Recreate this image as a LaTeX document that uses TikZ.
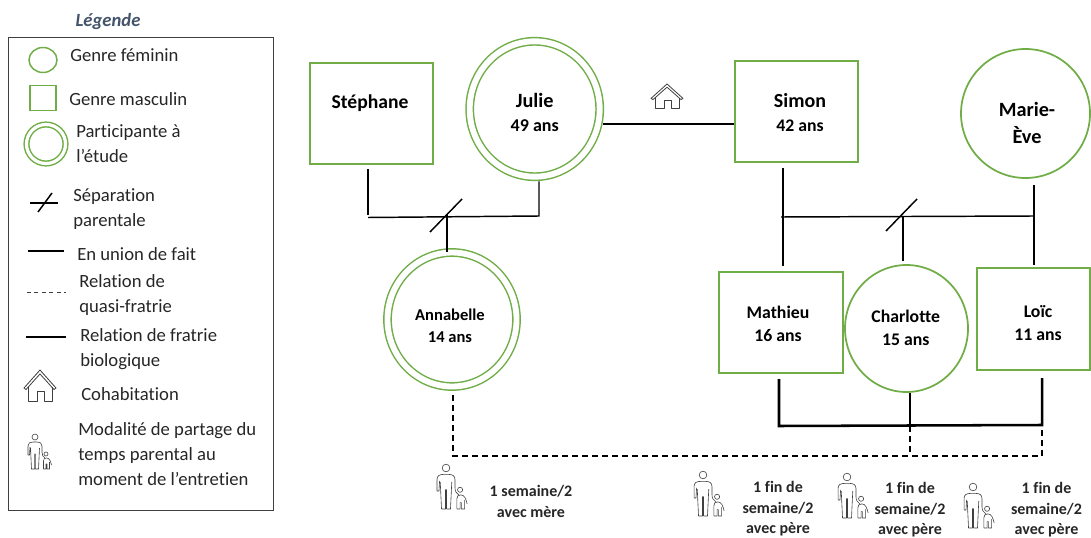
\documentclass[tikz,border=0pt]{standalone}
\usepackage{fontspec}
\setmainfont{Carlito}[Ligatures=CommonOff]
\usetikzlibrary{calc,shapes.geometric}
\definecolor{grn}{HTML}{70AD47}
\definecolor{legblue}{HTML}{44546A}
\definecolor{txt}{HTML}{262626}
\definecolor{icon}{HTML}{404040}
% #1 x shift (px), #2 y shift down (px), #3 baseline skip (pt), #4 lines
\newcommand\plab[4]{\fontsize{12}{#3}\selectfont\makebox[0pt]{\hspace*{\dimexpr#1pt*3/2\relax}\raisebox{\dimexpr-#2pt*3/4-4.5pt\relax}[0pt][0pt]{\begin{tabular}{@{}c@{}}#4\end{tabular}}}}
\newcommand\fnt[1]{\fontsize{#1}{18}\selectfont}
\tikzset{
  x=0.75pt,y=-0.75pt,
  gbox/.style={draw=grn,fill=white,inner sep=0pt,align=center,font=\bfseries,text=black},
  grect/.style={gbox,line width=1.5pt,rectangle,minimum width=#1*0.75pt},
  gell/.style={gbox,line width=1.3pt,ellipse,minimum width=#1*1.5pt},
  gdbl/.style={gbox,line width=1.1pt,ellipse,double=white,double distance=4.4pt,minimum width=#1*1.5pt},
  lk/.style={draw=black,line width=1.1pt},
  thk/.style={draw=black,line width=1.9pt},
  dsh/.style={draw=black,line width=1.1pt,dash pattern=on 4.5pt off 3pt},
  leg/.style={anchor=west,align=left,inner sep=0pt,text=txt,font=\fontsize{14}{18.7}\selectfont},
  captxt/.style={align=center,inner sep=0pt,text=txt,font=\bfseries\fontsize{12}{15.4}\selectfont},
  house/.pic={
    \draw[icon,line width=.6pt,line join=round] (-16,18) -- (0,0) -- (16,18) -- (14,19.5) -- (0,4) -- (-14,19.5) -- cycle;
    \draw[icon,line width=.6pt,line join=round] (-12,17) -- (-12,31) -- (-3,31) -- (-3,21) -- (4,21) -- (4,31) -- (12,31) -- (12,17);
  },
  person/.pic={
    \draw[icon,line width=.45pt,line join=round] (0,0) circle (3);
    \draw[icon,line width=.45pt,line join=round]
      (-7,18) -- (-7,9) .. controls (-7,6) and (-5,5) .. (-2,5) -- (2,5) .. controls (5,5) and (7,6) .. (7,9) -- (7,15) .. controls (7,18) and (8,20) .. (10,21);
    \draw[icon,line width=.45pt,line join=round]
      (-7,18) -- (-5.5,18) -- (-5,10)
      (-4.5,11) -- (-3.5,32) -- (-.4,32) -- (-.4,17) -- (.4,17) -- (.4,32) -- (3.5,32) -- (4.5,11);
    \draw[icon,line width=.45pt] (11,17) circle (2);
    \draw[icon,line width=.45pt,line join=round]
      (8.5,32) -- (8.5,24) .. controls (8.5,22) and (9.5,21) .. (11.5,21) .. controls (14.5,21) and (15.5,24) .. (16.5,28)
      (8.5,32) -- (11,32) -- (11,27) -- (12,27) -- (12,32) -- (14.5,32) -- (14.5,25);
  }
}
\begin{document}
\begin{tikzpicture}
\useasboundingbox (0,0) rectangle (1091,538);
% legend
\node[anchor=center,inner sep=0pt,text=legblue,font=\bfseries\itshape\fontsize{14}{16}\selectfont] (legt) at (108,21.5) {Légende};
\node[draw=icon,line width=.75pt,minimum width=265*0.75pt,minimum height=473*0.75pt,inner sep=0pt,anchor=north west] (legbox) at (8,37) {};
\node[draw=grn,line width=1.1pt,ellipse,minimum width=28*0.75pt,minimum height=25*0.75pt,inner sep=0pt] (lf) at (43,60) {};
\node[draw=grn,line width=1.1pt,rectangle,minimum width=26*0.75pt,minimum height=25*0.75pt,inner sep=0pt] (lm) at (43,98) {};
\node[draw=grn,line width=1.1pt,circle,double=white,double distance=2.4pt,minimum size=39*0.75pt,inner sep=0pt] (lp) at (46,144) {};
\node[leg] (t1) at (70,55) {Genre féminin};
\node[leg] (t2) at (69,99) {Genre masculin};
\node[leg] (t3) at (76,144) {Participante à\\l’étude};
\node[leg] (t4) at (73,209) {Séparation\\parentale};
\node[leg] (t5) at (77,254) {En union de fait};
\node[leg] (t6) at (79,295) {Relation de\\quasi-fratrie};
\node[leg] (t7) at (80,349) {Relation de fratrie\\biologique};
\node[leg] (t8) at (81,394) {Cohabitation};
\node[leg] (t9) at (78,454.5) {Modalité de partage du\\temps parental au\\moment de l’entretien};
\coordinate (a1) at (30,203); \coordinate (a2) at (58,203);
\coordinate (b1) at (38,212); \coordinate (b2) at (52,193);
\draw[lk] (a1) -- (a2); \draw[lk] (b1) -- (b2);
\coordinate (c1) at (28,251); \coordinate (c2) at (64,251);
\draw[lk] (c1) -- (c2);
\coordinate (d1) at (27,292); \coordinate (d2) at (66,292);
\draw[draw=icon,line width=.6pt,dash pattern=on 3pt off 2.6pt] (d1) -- (d2);
\coordinate (e1) at (26,337); \coordinate (e2) at (66,337);
\draw[thk] (e1) -- (e2);
\pic at (40,370) {house};
\pic at (35,437) {person};
% people
\node[grect=123,minimum height=101*0.75pt] (steph) at (371,114) {\plab{-1}{-12.3}{18}{\fnt{14.7}Stéphane}};
\node[gdbl=65,minimum height=135.4*0.75pt] (julie) at (534.7,109) {\plab{0}{4}{18}{\fnt{15.2}Julie\\\fnt{13.5}49 ans}};
\node[grect=123,minimum height=101*0.75pt] (simon) at (796.5,111.2) {\plab{3.5}{1.8}{18}{\fnt{15}Simon\\\fnt{13.3}42 ans}};
\node[gell=64.5,minimum height=129*0.75pt] (marie) at (1025.5,113.5) {\plab{1.5}{9}{20.25}{\fnt{15.2}Marie-\\\fnt{15.2}Ève}};
\node[gdbl=64.5,minimum height=134*0.75pt] (anna) at (452,319.5) {\plab{-2}{5.5}{16.5}{\fnt{12.4}Annabelle\\\fnt{12.4}14 ans}};
\node[grect=124,minimum height=101*0.75pt] (math) at (781,322.5) {\plab{-3}{1}{17.25}{\fnt{13.3}Mathieu\\\fnt{13.3}16 ans}};
\node[gell=61.5,minimum height=127*0.75pt] (charl) at (906.5,328.5) {\plab{-.8}{-1}{17.25}{\fnt{13.3}Charlotte\\\fnt{13.3}15 ans}};
\node[grect=113,minimum height=102*0.75pt] (loic) at (1033.5,319) {\plab{4.5}{3.5}{17.25}{\fnt{13.3}Loïc\\\fnt{13.3}11 ans}};
% house in centre
\pic[yscale=.8] at (667,84) {house};
% couple 1
\coordinate (s1) at (368,217.5); \coordinate (j1) at (539,216);
\coordinate (k0) at (447,214);
\coordinate (sl1) at (430,232); \coordinate (sl2) at (462,199);
\draw[lk,shorten <=3pt] (s1 |- steph.south) -- (368,215);
\draw[lk,shorten <=3pt] (j1 |- julie.south) -- (j1) -- (s1);
\draw[lk] (sl1) -- (sl2);
\draw[lk] (k0) -- (k0 |- anna.north);
% julie simon
\coordinate (js) at (603,124);
\draw[lk] (js) -- (simon.west |- js);
% couple 2
\coordinate (m1) at (783,217); \coordinate (m2) at (1034,216);
\coordinate (n0) at (903,217);
\coordinate (sr1) at (886,231); \coordinate (sr2) at (917,199);
\draw[lk,shorten <=4pt,shorten >=3.75pt] (m1 |- simon.south) -- (m1 |- math.north);
\draw[lk] (781,217) -- (m2);
\draw[lk,shorten <=4.5pt,shorten >=1.5pt] (m2 |- marie.south) -- (m2 |- loic.north);
\draw[lk,shorten >=2.25pt] (n0) -- (n0 |- charl.north);
\draw[lk] (sr1) -- (sr2);
% thick sibling
\coordinate (t0) at (779,426); \coordinate (t2) at (1042,425); \coordinate (t1) at (910,426);
\draw[thk,shorten <=3.75pt,shorten >=5.25pt] (t0 |- math.south) -- (t0) -- (t2) -- (t2 |- loic.south);
\draw[thk] (t1 |- charl.south) -- (t1);
% dashed
\coordinate (v0) at (453,456); \coordinate (v1) at (1042,456); \coordinate (v2) at (910,456);
\coordinate (v4) at (1042,426);
\draw[dsh,shorten <=6pt] (v0 |- anna.south) -- (v0) -- (v1) -- (v4);
\draw[dsh] (t1) -- (v2);
% icons & captions
\pic[scale=1.28] at (446,468) {person};
\pic[scale=1.28] at (703,475) {person};
\pic[scale=1.28] at (847,477) {person};
\pic[scale=1.28] at (973,487) {person};
\node[captxt] (c1t) at (531,501.5) {1 semaine/2\\avec mère};
\node[captxt] (c2t) at (778,509) {1 fin de\\semaine/2\\avec père};
\node[captxt] (c3t) at (910,510) {1 fin de\\semaine/2\\avec père};
\node[captxt] (c4t) at (1046.5,510) {1 fin de\\semaine/2\\avec père};
\end{tikzpicture}
\end{document}
